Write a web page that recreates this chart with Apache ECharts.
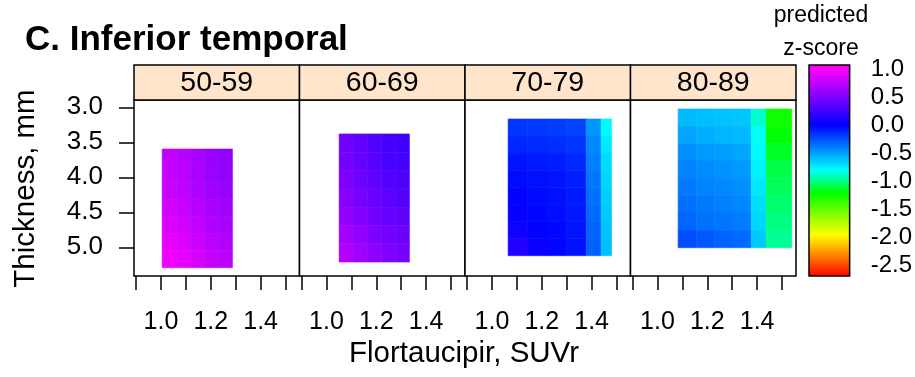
<!DOCTYPE html>
<html>
<head>
<meta charset="utf-8">
<script src="https://cdn.jsdelivr.net/npm/echarts@6/dist/echarts.min.js"></script>
<style>
  html, body { margin: 0; padding: 0; background: #ffffff; }
  #chart { width: 915px; height: 377px; }
</style>
</head>
<body>
<div id="chart"></div>
<script>
// ---- data -------------------------------------------------------------
const ageGroups = ['50-59', '60-69', '70-79', '80-89'];
const suvrTicks = [0.9, 1.0, 1.1, 1.2, 1.3, 1.4, 1.5];
const suvrLabels = [1.0, 1.2, 1.4];
const thicknessTicks = [3.0, 3.5, 4.0, 4.5, 5.0];
const zTicks = [1.0, 0.5, 0.0, -0.5, -1.0, -1.5, -2.0, -2.5];

// cell boundaries (Flortaucipir SUVr / thickness in mm) per age group
const suvrEdges50s = [1.005, 1.061, 1.118, 1.174, 1.231, 1.287];
const thickEdges50s = [3.596, 3.838, 4.080, 4.323, 4.565, 4.807, 5.049, 5.291];
const suvrEdges60s = [1.051, 1.107, 1.164, 1.220, 1.277, 1.333];
const thickEdges60s = [3.381, 3.642, 3.904, 4.165, 4.426, 4.687, 4.949, 5.210];
const suvrEdges70s = [1.065, 1.143, 1.221, 1.300, 1.378, 1.438, 1.480];
const thickEdges70s = [3.167, 3.411, 3.655, 3.899, 4.143, 4.388, 4.632, 4.876, 5.120];
const suvrEdges80s = [1.083, 1.156, 1.229, 1.303, 1.376, 1.436, 1.539];
const thickEdges80s = [3.024, 3.272, 3.519, 3.767, 4.015, 4.263, 4.510, 4.758, 5.006];

// predicted z-scores, one row per thickness band (thin -> thick)
const zScores50s = [
  [0.76, 0.72, 0.66, 0.60, 0.57],
  [0.77, 0.73, 0.67, 0.61, 0.58],
  [0.79, 0.75, 0.69, 0.63, 0.60],
  [0.82, 0.78, 0.72, 0.66, 0.63],
  [0.86, 0.82, 0.76, 0.69, 0.66],
  [0.91, 0.87, 0.80, 0.73, 0.70],
  [0.94, 0.90, 0.84, 0.77, 0.74]
];
const zScores60s = [
  [0.44, 0.38, 0.32, 0.27, 0.25],
  [0.46, 0.40, 0.34, 0.29, 0.27],
  [0.49, 0.43, 0.37, 0.32, 0.30],
  [0.53, 0.47, 0.41, 0.36, 0.33],
  [0.57, 0.51, 0.45, 0.40, 0.37],
  [0.63, 0.57, 0.50, 0.45, 0.42],
  [0.69, 0.62, 0.55, 0.50, 0.47]
];
const zScores70s = [
  [-0.17, -0.18, -0.19, -0.21, -0.47, -0.79],
  [-0.12, -0.13, -0.14, -0.16, -0.43, -0.73],
  [-0.06, -0.08, -0.09, -0.12, -0.40, -0.69],
  [-0.03, -0.05, -0.06, -0.09, -0.37, -0.67],
  [ 0.00, -0.03, -0.05, -0.08, -0.35, -0.65],
  [ 0.02, -0.02, -0.04, -0.07, -0.33, -0.63],
  [ 0.06,  0.01, -0.02, -0.06, -0.31, -0.61],
  [ 0.13,  0.04, -0.01, -0.05, -0.30, -0.60]
];
const zScores80s = [
  [-0.58, -0.60, -0.61, -0.62, -0.88, -1.25],
  [-0.52, -0.55, -0.57, -0.58, -0.81, -1.20],
  [-0.45, -0.48, -0.50, -0.52, -0.79, -1.14],
  [-0.41, -0.44, -0.46, -0.48, -0.76, -1.09],
  [-0.38, -0.41, -0.43, -0.45, -0.73, -1.06],
  [-0.35, -0.38, -0.40, -0.42, -0.70, -1.03],
  [-0.32, -0.35, -0.37, -0.39, -0.67, -1.00],
  [-0.24, -0.28, -0.31, -0.33, -0.63, -0.97]
];

// ---- colour scale -----------------------------------------------------
const zMin = -2.69, zMax = 1.077;
const paletteStops = [
  [-2.69, '#ff0000'], [-1.95, '#ffff00'], [-1.2, '#00ff00'],
  [-0.8, '#00ffff'], [0.0, '#0000ff'], [1.0, '#ff00ff'], [1.077, '#ff00e6']
];
function hexToRgb(h) {
  return [parseInt(h.slice(1, 3), 16), parseInt(h.slice(3, 5), 16), parseInt(h.slice(5, 7), 16)];
}
function paletteAt(v) {
  for (let i = 0; i < paletteStops.length - 1; i++) {
    const [v0, c0] = paletteStops[i], [v1, c1] = paletteStops[i + 1];
    if (v <= v1 || i === paletteStops.length - 2) {
      const t = Math.max(0, Math.min(1, (v - v0) / (v1 - v0)));
      const a = hexToRgb(c0), b = hexToRgb(c1);
      const c = a.map((x, k) => Math.round(x + (b[k] - x) * t));
      return 'rgb(' + c.join(',') + ')';
    }
  }
}
const rampColors = [];
for (let i = 0; i <= 120; i++) rampColors.push(paletteAt(zMin + (zMax - zMin) * i / 120));

// ---- layout -----------------------------------------------------------
const FONT = 'Liberation Sans';
const panelLeft = [134, 299.5, 465, 630.5];
const panelTop = 100, panelW = 165.5, panelH = 176;
const stripTop = 65, stripH = 35;
const suvrMin = 0.892, suvrMax = 1.556;
const thickMin = 2.896, thickMax = 5.41;
const barLeft = 809, barTop = 65, barW = 43, barH = 211;

const panels = [
  [suvrEdges50s, thickEdges50s, zScores50s],
  [suvrEdges60s, thickEdges60s, zScores60s],
  [suvrEdges70s, thickEdges70s, zScores70s],
  [suvrEdges80s, thickEdges80s, zScores80s]
];

function buildCells(xe, ye, z) {
  const cells = [];
  for (let i = 0; i < z.length; i++) {
    for (let j = 0; j < z[i].length; j++) {
      cells.push([xe[j], xe[j + 1], ye[i], ye[i + 1], z[i][j]]);
    }
  }
  return cells;
}

function renderCell(params, api) {
  const a = api.coord([api.value(0), api.value(2)]);
  const b = api.coord([api.value(1), api.value(3)]);
  const color = api.visual('color');
  return {
    type: 'rect',
    shape: {
      x: Math.min(a[0], b[0]), y: Math.min(a[1], b[1]),
      width: Math.abs(b[0] - a[0]), height: Math.abs(b[1] - a[1])
    },
    style: { fill: color, stroke: color, lineWidth: 0.6 }
  };
}

function renderColorBar(params, api) {
  const a = api.coord([api.value(0), api.value(3)]);
  const b = api.coord([api.value(1), api.value(2)]);
  const stops = paletteStops.map(([v, c]) => ({ offset: (zMax - v) / (zMax - zMin), color: c }));
  return {
    type: 'rect',
    shape: { x: a[0], y: a[1], width: b[0] - a[0], height: b[1] - a[1] },
    style: {
      fill: { type: 'linear', x: 0, y: 0, x2: 0, y2: 1, colorStops: stops },
      stroke: '#000', lineWidth: 1.5
    }
  };
}

const grids = [], xAxes = [], yAxes = [], series = [], graphics = [];
panels.forEach((p, k) => {
  grids.push({
    left: panelLeft[k], top: panelTop, width: panelW, height: panelH,
    show: true, borderColor: '#000', borderWidth: 1.5, backgroundColor: '#fff'
  });
  xAxes.push({
    gridIndex: k, type: 'value', min: suvrMin, max: suvrMax,
    axisLine: { show: false }, splitLine: { show: false },
    axisTick: { show: true, inside: false, length: 14, customValues: suvrTicks,
      lineStyle: { color: '#000', width: 1.5 } },
    axisLabel: { show: true, customValues: suvrLabels, margin: 34, color: '#000',
      fontFamily: FONT, fontSize: 25, formatter: v => v.toFixed(1) }
  });
  yAxes.push({
    gridIndex: k, type: 'value', min: thickMin, max: thickMax, inverse: true,
    show: k === 0,
    axisLine: { show: false }, splitLine: { show: false },
    axisTick: { show: true, inside: false, length: 15, customValues: thicknessTicks,
      lineStyle: { color: '#000', width: 1.5 } },
    axisLabel: { show: true, customValues: thicknessTicks, margin: 31, color: '#000',
      fontFamily: FONT, fontSize: 26, formatter: v => v.toFixed(1) }
  });
  series.push({
    type: 'custom', name: ageGroups[k], xAxisIndex: k, yAxisIndex: k,
    renderItem: renderCell, clip: true,
    encode: { x: [0, 1], y: [2, 3] },
    data: buildCells(p[0], p[1], p[2])
  });
  // strip with the age group label
  graphics.push({
    type: 'rect', z: 10,
    shape: { x: panelLeft[k], y: stripTop, width: panelW, height: stripH },
    style: { fill: '#ffe5cc', stroke: '#000', lineWidth: 1.5 }
  });
  graphics.push({
    type: 'text', z: 11,
    x: panelLeft[k] + panelW / 2, y: stripTop + stripH / 2 + 1,
    style: { text: ageGroups[k], fill: '#000', font: '28.5px "' + FONT + '"',
      align: 'center', verticalAlign: 'middle' }
  });
});

// colour key
grids.push({ left: barLeft, top: barTop, width: barW, height: barH, show: false });
xAxes.push({ gridIndex: 4, type: 'value', min: 0, max: 1, show: false });
yAxes.push({
  gridIndex: 4, type: 'value', min: zMin, max: zMax, position: 'right',
  axisLine: { show: false }, splitLine: { show: false },
  axisTick: { show: true, inside: false, length: 10, customValues: zTicks,
    lineStyle: { color: '#000', width: 1.5 } },
  axisLabel: { show: true, customValues: zTicks, margin: 21, color: '#000',
    fontFamily: FONT, fontSize: 24, formatter: v => v.toFixed(1) }
});
series.push({
  type: 'custom', xAxisIndex: 4, yAxisIndex: 4, renderItem: renderColorBar,
  encode: { x: [0, 1], y: [2, 3] }, silent: true,
  data: [[0, 1, zMin, zMax]]
});

graphics.push(
  { type: 'text', x: 25, y: 40.5,
    style: { text: 'C. Inferior temporal', fill: '#000', font: 'bold 35px "' + FONT + '"',
      align: 'left', verticalAlign: 'middle' } },
  { type: 'text', x: 464, y: 354,
    style: { text: 'Flortaucipir, SUVr', fill: '#000', font: '29.5px "' + FONT + '"',
      align: 'center', verticalAlign: 'middle' } },
  { type: 'text', x: 26, y: 188.5, rotation: Math.PI / 2,
    style: { text: 'Thickness, mm', fill: '#000', font: '29.5px "' + FONT + '"',
      align: 'center', verticalAlign: 'middle' } },
  { type: 'text', x: 821, y: 15.5,
    style: { text: 'predicted', fill: '#000', font: '23px "' + FONT + '"',
      align: 'center', verticalAlign: 'middle' } },
  { type: 'text', x: 821, y: 49,
    style: { text: 'z-score', fill: '#000', font: '23px "' + FONT + '"',
      align: 'center', verticalAlign: 'middle' } }
);

const chart = echarts.init(document.getElementById('chart'), null, { renderer: 'canvas' });
chart.setOption({
  animation: false,
  backgroundColor: '#ffffff',
  textStyle: { fontFamily: FONT },
  grid: grids,
  xAxis: xAxes,
  yAxis: yAxes,
  visualMap: {
    type: 'continuous', show: false, min: zMin, max: zMax, dimension: 4,
    seriesIndex: [0, 1, 2, 3], inRange: { color: rampColors }
  },
  series: series,
  graphic: graphics
});
</script>
</body>
</html>
